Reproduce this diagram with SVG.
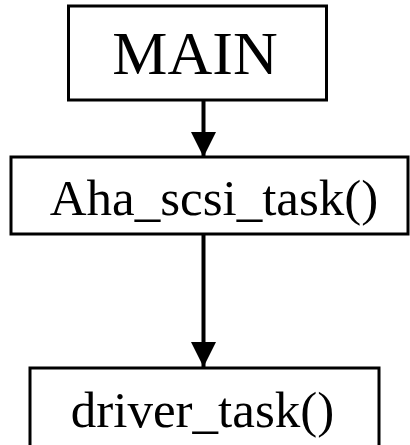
<svg xmlns="http://www.w3.org/2000/svg" width="410" height="445" viewBox="0 0 410 445">
<style>
.box{fill:#fff;stroke:#000;stroke-width:3}
.lbl{font-family:"Liberation Serif","Times New Roman",serif;fill:#000;text-anchor:middle}
.edge{stroke:#000;stroke-width:4;fill:none}
</style>
<defs>
<marker id="ah" markerUnits="userSpaceOnUse" markerWidth="26" markerHeight="26" refX="25" refY="12.5" orient="auto" viewBox="0 0 26 25">
<path d="M0,0 L25,12.5 L0,25 Z" fill="#000"/>
</marker>
</defs>
<rect width="410" height="445" fill="#fff"/>
<g id="connectors">
<line class="edge" x1="203.5" y1="100" x2="203.5" y2="157" marker-end="url(#ah)"/>
<line class="edge" x1="203.5" y1="234" x2="203.5" y2="367" marker-end="url(#ah)"/>
</g>
<g id="main">
<rect class="box" x="68.5" y="6" width="258" height="94"/>
<text class="lbl" x="195" y="74" font-size="62">MAIN</text>
</g>
<g id="aha_scsi_task">
<rect class="box" x="11" y="157" width="397" height="77"/>
<text class="lbl" x="214" y="215" font-size="51">Aha_scsi_task()</text>
</g>
<g id="driver_task">
<rect class="box" x="30" y="368" width="349" height="90"/>
<text class="lbl" x="202.5" y="426.5" font-size="51">driver_task()</text>
</g>
</svg>
